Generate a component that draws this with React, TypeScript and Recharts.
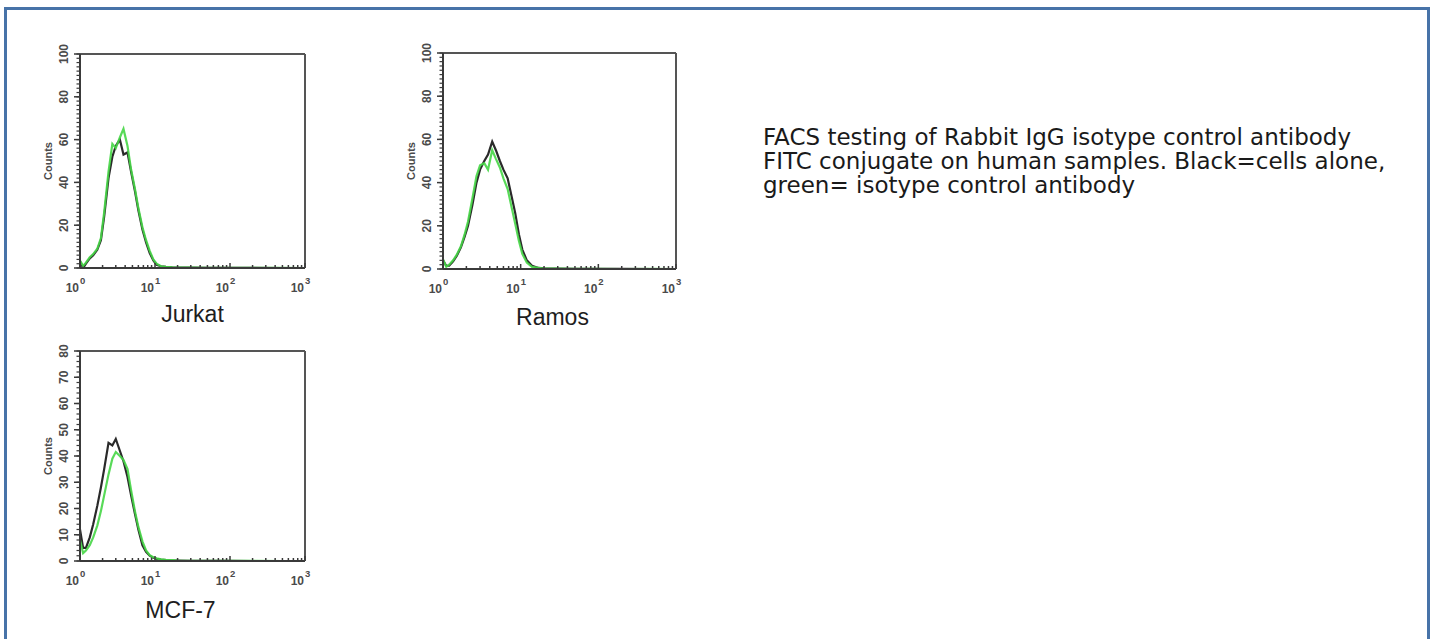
import React from "react";
import { LineChart, Line, XAxis, YAxis } from "recharts";

// fluorescence channel (log scale, 10^0 .. 10^3)
const fluorescence = [
  1, 1.1, 1.2, 1.35, 1.5, 1.7, 1.9, 2.1, 2.4, 2.7, 3, 3.4, 3.8, 4.3, 4.8, 5.4,
  6, 6.8, 7.6, 8.5, 9.5, 10.5, 12, 14, 17, 20, 30, 50, 100, 200, 500, 1000,
];

// black = cells alone, green = isotype control antibody
const jurkatCells = [
  3, 0, 2, 4.5, 6, 8.5, 13, 24, 42, 52, 57, 60, 53, 54, 45, 36, 27, 18, 12, 7,
  3.5, 1.5, 0.8, 0.5, 0.3, 0.2, 0.2, 0.1, 0.1, 0.1, 0, 0,
];
const jurkatIsotype = [
  3.5, 1, 2.5, 5, 6.5, 9, 14, 26, 45, 58, 56, 61, 65, 57, 46, 37, 28, 19, 13, 8,
  4, 2, 0.8, 0.5, 0.3, 0.2, 0.2, 0.1, 0.1, 0.1, 0.1, 0,
];

const ramosCells = [
  4, 1.5, 1.5, 3.5, 6, 10, 15, 20, 30, 40, 46, 50, 53, 59, 55, 50, 46, 42, 34,
  26, 16, 9, 4, 1.5, 0.5, 0.3, 0.2, 0.1, 0.1, 0.1, 0, 0,
];
const ramosIsotype = [
  4.5, 1, 2, 4, 6.5, 10.5, 16, 22, 33, 43, 48, 49, 46, 55, 51, 47, 42, 37, 29,
  21, 13, 7, 3, 1, 0.5, 0.2, 0.2, 0.1, 0.1, 0, 0.1, 0,
];

const mcf7Cells = [
  12, 5, 5, 9, 14, 21, 28, 35, 45, 44, 46.5, 42, 38, 32, 25, 18, 12, 6, 3.5, 2,
  1.2, 0.8, 0.5, 0.3, 0.2, 0.2, 0.1, 0.1, 0.1, 0, 0, 0,
];
const mcf7Isotype = [
  8, 3, 4, 6, 9, 13.5, 19, 25, 33, 39, 41.5, 40, 38.5, 35, 27, 19, 13, 7.5, 4,
  2.2, 1.4, 1, 0.6, 0.4, 0.3, 0.2, 0.1, 0.1, 0.1, 0.1, 0, 0,
];

const decadeTicks = [1, 10, 100, 1000];
const minorLogTicks = [
  2, 3, 4, 5, 6, 7, 8, 9, 20, 30, 40, 50, 60, 70, 80, 90, 200, 300, 400, 500,
  600, 700, 800, 900,
];
const countTicks100 = [0, 20, 40, 60, 80, 100];
const countTicks80 = [0, 10, 20, 30, 40, 50, 60, 70, 80];

const caption = [
  "FACS testing of Rabbit IgG isotype control antibody",
  "FITC conjugate on human samples. Black=cells alone,",
  "green= isotype control antibody",
];

const AXIS = "#3a3a3a";
const TICK_TEXT = "#4a4a4a";
const BLACK_LINE = "#2a2a2a";
const GREEN_LINE = "#46d646";
const SANS = "'Liberation Sans', Arial, sans-serif";

function DecadeTick(props: any) {
  const { x, y, payload } = props;
  const exp = Math.round(Math.log10(payload.value));
  return (
    <g fontFamily={SANS} fontWeight="bold" fill={TICK_TEXT}>
      <line x1={x} x2={x} y1={y} y2={y - 5} stroke={AXIS} strokeWidth={1.5} />
      <text x={x - 1} y={y + 24} textAnchor="end" fontSize={12}>
        10
      </text>
      <text x={x} y={y + 16} fontSize={9.5}>
        {exp}
      </text>
    </g>
  );
}

function MinorXTick(props: any) {
  const { x, y } = props;
  // minor axis sits 1px below the main one
  return <line x1={x} x2={x} y1={y - 1} y2={y - 4} stroke={AXIS} strokeWidth={1.5} />;
}

function CountTick(props: any) {
  const { x, y, payload } = props;
  const tx = x - 12;
  return (
    <g>
      <line x1={x - 6} x2={x} y1={y} y2={y} stroke={AXIS} strokeWidth={1.5} />
      <text
        x={tx}
        y={y}
        transform={`rotate(-90 ${tx} ${y})`}
        textAnchor="middle"
        fontSize={12}
        fontWeight="bold"
        fill={TICK_TEXT}
        fontFamily={SANS}
      >
        {payload.value}
      </text>
    </g>
  );
}

function MinorYTick(props: any) {
  const { x, y } = props;
  return <line x1={x - 2.5} x2={x + 1} y1={y} y2={y} stroke={AXIS} strokeWidth={1.2} />;
}

type PanelProps = {
  name: string;
  cells: number[];
  isotype: number[];
  yMax: number;
  yTicks: number[];
  left: number;
  top: number;
  margin: { top: number; right: number; bottom: number; left: number };
  titleDx: number;
  titleDy: number;
};

function Panel({ name, cells, isotype, yMax, yTicks, left, top, margin, titleDx, titleDy }: PanelProps) {
  const data = fluorescence.map((x, i) => ({ x, cells: cells[i], isotype: isotype[i] }));
  const minorY = Array.from({ length: yMax / 2 + 1 }, (_, i) => i * 2);

  const title = (p: any) => {
    const vb = p.viewBox;
    if (!vb || vb.x == null) return null;
    return (
      <text
        x={vb.x + vb.width / 2 + titleDx}
        y={vb.y + titleDy}
        textAnchor="middle"
        fontSize={23}
        fill="#1e1e1e"
        fontFamily={SANS}
      >
        {name}
      </text>
    );
  };

  const counts = (p: any) => {
    const vb = p.viewBox;
    if (!vb || vb.x == null) return null;
    const cx = vb.x + vb.width - 28;
    const cy = vb.y + vb.height / 2;
    return (
      <text
        x={cx}
        y={cy}
        transform={`rotate(-90 ${cx} ${cy})`}
        textAnchor="middle"
        fontSize={11}
        fontWeight="bold"
        fill={TICK_TEXT}
        fontFamily={SANS}
      >
        Counts
      </text>
    );
  };

  return (
    <div style={{ position: "absolute", left, top }}>
      <LineChart width={340} height={340} data={data} margin={margin}>
        <XAxis
          dataKey="x"
          type="number"
          scale="log"
          domain={[1, 1000]}
          allowDataOverflow
          ticks={decadeTicks}
          interval={0}
          height={1}
          tickSize={0}
          tickMargin={0}
          tickLine={false}
          axisLine={{ stroke: AXIS, strokeWidth: 2 }}
          tick={DecadeTick}
          label={title}
        />
        <XAxis
          xAxisId="minor"
          dataKey="x"
          type="number"
          scale="log"
          domain={[1, 1000]}
          allowDataOverflow
          ticks={minorLogTicks}
          interval={0}
          height={1}
          tickSize={0}
          tickMargin={0}
          tickLine={false}
          axisLine={false}
          tick={MinorXTick}
        />
        <XAxis
          xAxisId="top"
          orientation="top"
          type="number"
          domain={[0, 1]}
          allowDataOverflow
          height={1}
          tick={false}
          tickLine={false}
          axisLine={{ stroke: "#555", strokeWidth: 2 }}
        />
        <YAxis
          type="number"
          domain={[0, yMax]}
          allowDataOverflow
          ticks={yTicks}
          interval={0}
          width={1}
          tickSize={0}
          tickMargin={0}
          tickLine={false}
          axisLine={{ stroke: AXIS, strokeWidth: 2 }}
          tick={CountTick}
          label={counts}
        />
        <YAxis
          yAxisId="minor"
          type="number"
          domain={[0, yMax]}
          allowDataOverflow
          ticks={minorY}
          interval={0}
          width={1}
          tickSize={0}
          tickMargin={0}
          tickLine={false}
          axisLine={false}
          tick={MinorYTick}
        />
        <YAxis
          yAxisId="right"
          orientation="right"
          type="number"
          domain={[0, 1]}
          allowDataOverflow
          width={1}
          tick={false}
          tickLine={false}
          axisLine={{ stroke: "#555", strokeWidth: 2 }}
        />
        <Line
          type="linear"
          dataKey="cells"
          stroke={BLACK_LINE}
          strokeWidth={2.2}
          dot={false}
          isAnimationActive={false}
        />
        <Line
          type="linear"
          dataKey="isotype"
          stroke={GREEN_LINE}
          strokeWidth={2.2}
          strokeOpacity={0.9}
          dot={false}
          isAnimationActive={false}
        />
      </LineChart>
    </div>
  );
}

export default function App() {
  return (
    <div
      style={{
        position: "absolute",
        left: 0,
        top: 0,
        width: 1435,
        height: 639,
        overflow: "hidden",
        background: "#fff",
      }}
    >
      <div
        style={{
          position: "absolute",
          left: 4,
          top: 7,
          width: 1426,
          height: 700,
          boxSizing: "border-box",
          border: "3px solid #4773a8",
        }}
      />
      <Panel
        name="Jurkat"
        cells={jurkatCells}
        isotype={jurkatIsotype}
        yMax={100}
        yTicks={countTicks100}
        left={0}
        top={0}
        margin={{ top: 53, right: 34, bottom: 70, left: 78 }}
        titleDx={0}
        titleDy={54}
      />
      <Panel
        name="Ramos"
        cells={ramosCells}
        isotype={ramosIsotype}
        yMax={100}
        yTicks={countTicks100}
        left={360}
        top={0}
        margin={{ top: 52, right: 23, bottom: 69, left: 81 }}
        titleDx={-7}
        titleDy={56}
      />
      <Panel
        name="MCF-7"
        cells={mcf7Cells}
        isotype={mcf7Isotype}
        yMax={80}
        yTicks={countTicks80}
        left={0}
        top={300}
        margin={{ top: 50, right: 34, bottom: 77, left: 78 }}
        titleDx={-12}
        titleDy={57}
      />
      <div
        style={{
          position: "absolute",
          left: 763,
          top: 125,
          fontFamily: "'DejaVu Sans', Verdana, sans-serif",
          fontSize: 23,
          lineHeight: "24px",
          color: "#1a1a1a",
          whiteSpace: "nowrap",
        }}
      >
        {caption.map((line) => (
          <div key={line}>{line}</div>
        ))}
      </div>
    </div>
  );
}
